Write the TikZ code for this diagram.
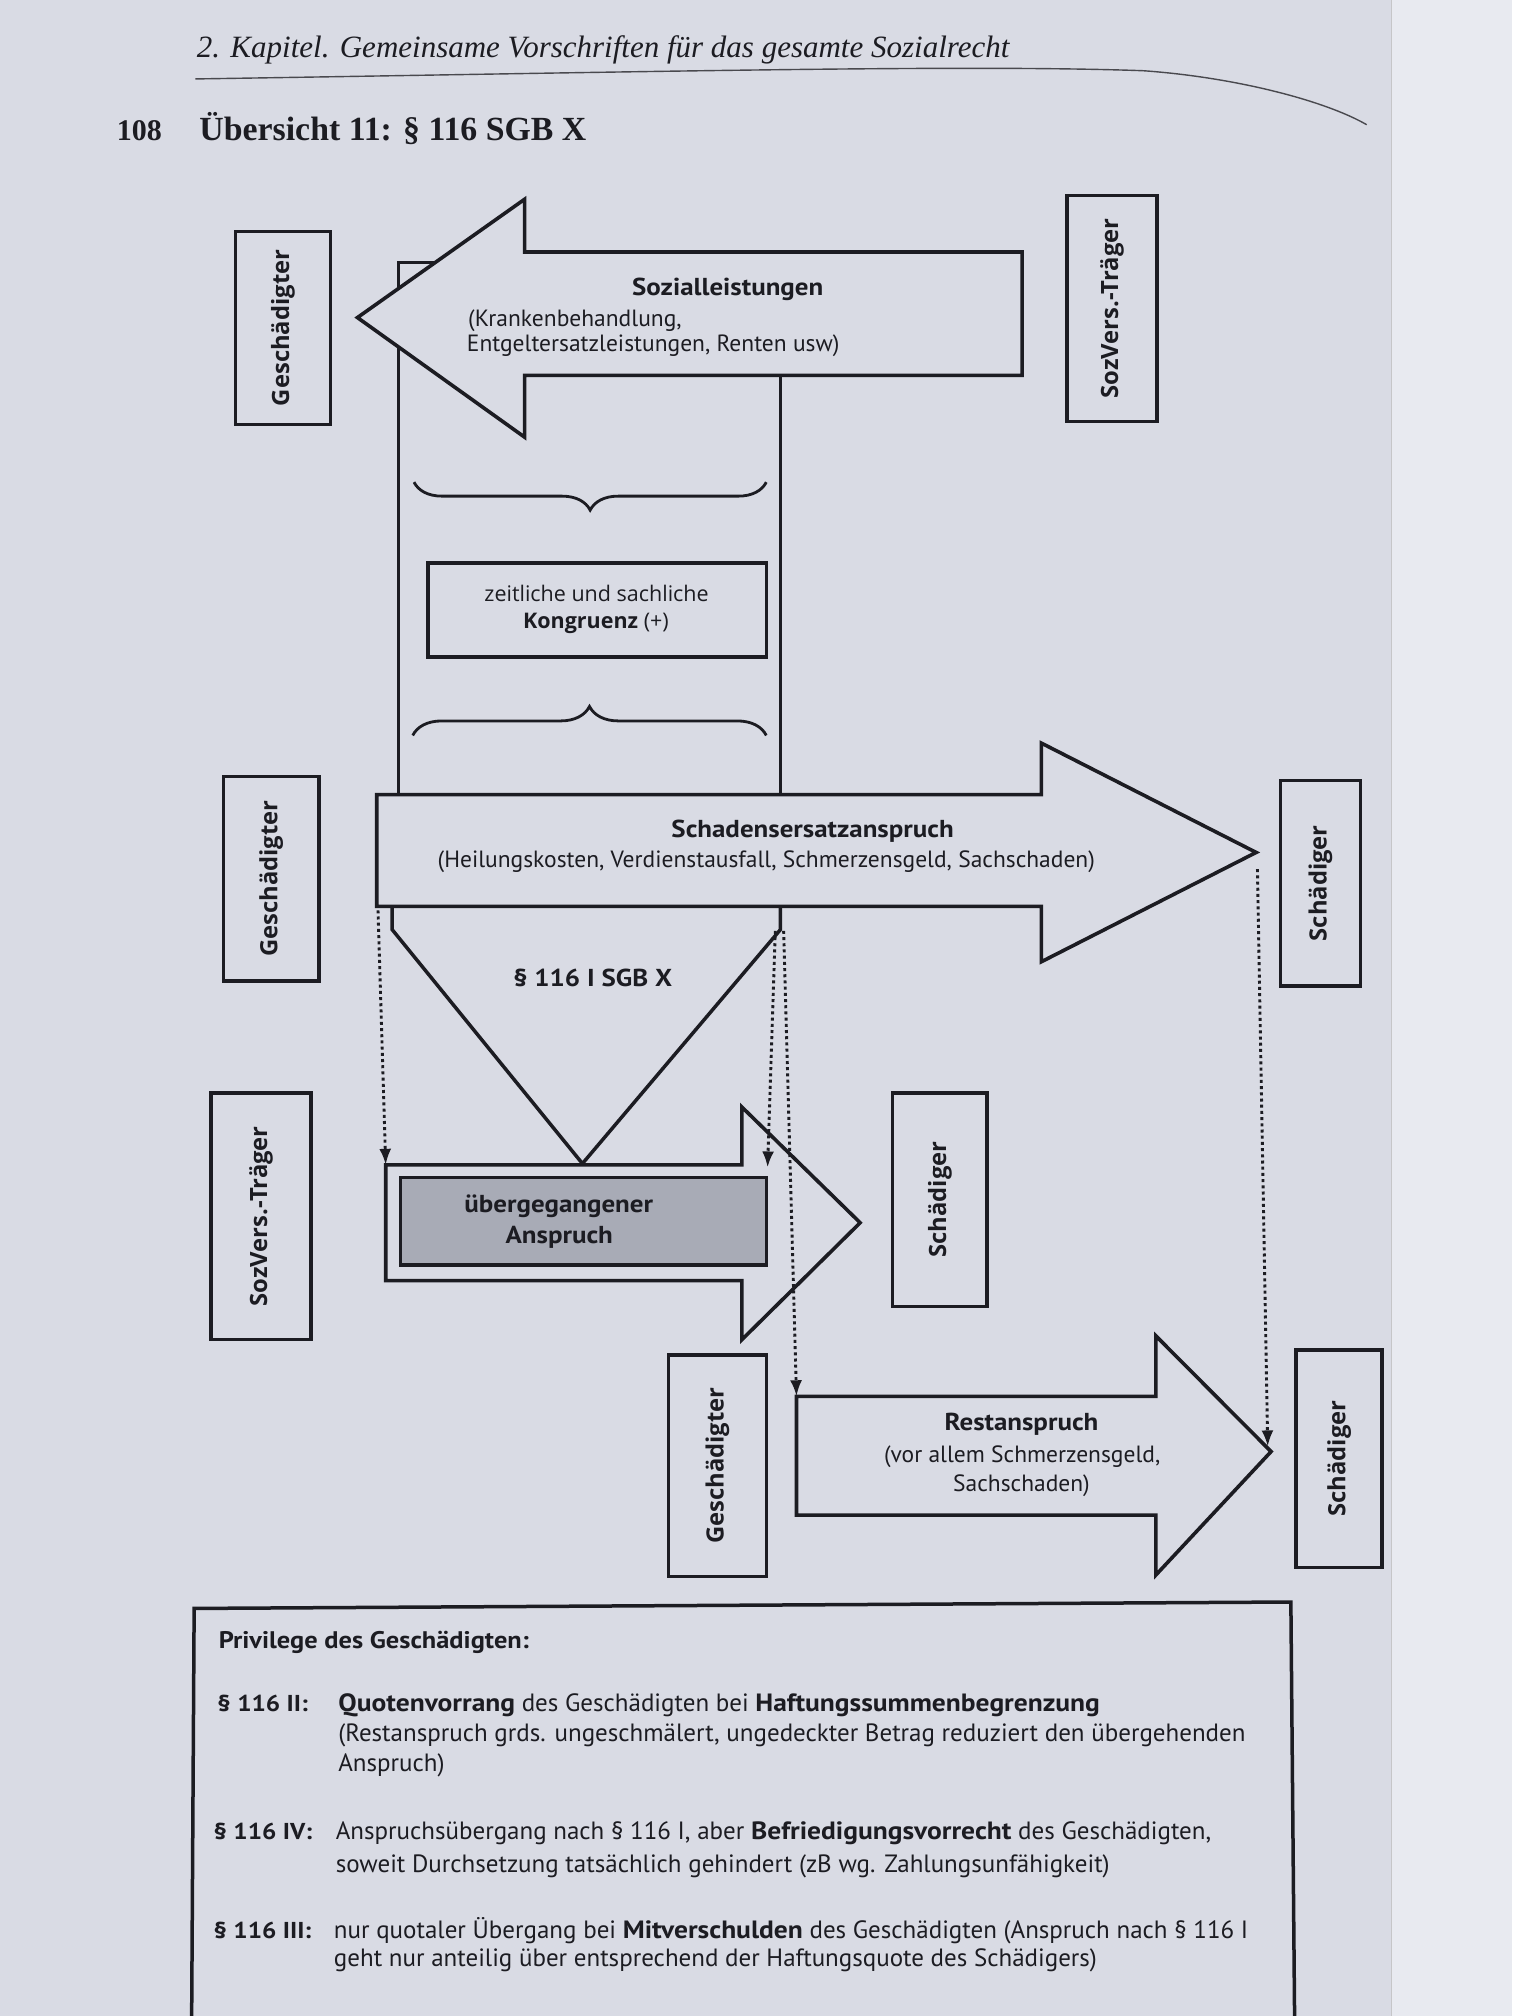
\documentclass[tikz,border=0pt]{standalone}
\usepackage{fontspec}
\setmainfont{Liberation Serif}
\newfontfamily\cnd{PT Sans}[BoldFeatures={FakeStretch=1.1}]
\newfontfamily\wide{Open Sans}
\usetikzlibrary{decorations.pathreplacing,arrows.meta}
\definecolor{page}{RGB}{217,219,228}
\definecolor{pageedge}{RGB}{232,234,240}
\definecolor{ink}{RGB}{28,28,34}
\definecolor{shade}{RGB}{168,171,182}
\begin{document}
\begin{tikzpicture}[x=1.2857pt,y=-1.2857pt,
  outl/.style={draw=ink,line width=3.6pt,fill=page,line join=miter},
  framel/.style={draw=ink,line width=3.5pt},
  lbl/.style={rotate=90,text=ink,inner sep=0pt,font=\wide\bfseries\fontsize{23.8}{26}\selectfont},
  ctxt/.style={text=ink,inner sep=0pt,font=\cnd\fontsize{23.5}{28}\selectfont},
  ctxtb/.style={text=ink,inner sep=0pt,font=\cnd\bfseries\fontsize{24.5}{28}\selectfont},
  btxt/.style={text=ink,inner sep=0pt,font=\cnd\fontsize{25}{28}\selectfont},
  btxtb/.style={text=ink,inner sep=0pt,font=\cnd\bfseries\fontsize{23}{28}\selectfont},
  wtxt/.style={text=ink,inner sep=0pt,font=\wide\fontsize{21.5}{24}\selectfont},
  dotl/.style={draw=ink,line width=2.9pt,dash pattern=on 3pt off 3.2pt,-{Latex[length=16pt,width=12pt]}},
  bracel/.style={draw=ink,line width=2.8pt,decorate,decoration={brace,amplitude=#1}},
  hdr/.style={text=ink,inner sep=0pt,anchor=base west}
]
\useasboundingbox (0,0) rectangle (1176,1568);
\fill[page] (0,0) rectangle (1176,1568);
\fill[pageedge] (1082,0) rectangle (1176,1568);
\draw[ink!25,line width=1pt] (1082,0) -- (1082,1568);

% header
\node[hdr,font=\itshape\fontsize{31}{32}\selectfont] (kap) at (153,44.6) {2. Kapitel. Gemeinsame Vorschriften für das gesamte Sozialrecht};
\draw[ink!80,line width=1.4pt] (152,61.4) .. controls (500,56) and (750,50) .. (889,55) .. controls (960,60) and (1030,78) .. (1063,97);
\node[hdr,font=\bfseries\fontsize{30}{32}\selectfont] (pnum) at (90.7,109) {108};
\node[hdr,font=\bfseries\fontsize{33.8}{34}\selectfont] (titel) at (155,109) {Übersicht 11: § 116 SGB X};

% frame lines behind the arrows
\draw[framel] (310,618) -- (310,204) -- (607,204) -- (607,618);
\draw[framel] (305,700) -- (305,723) -- (453,905) -- (607,723) -- (607,700);

% Sozialleistungen arrow
\draw[outl] (795,196) -- (408,196) -- (408,155) -- (278,247) -- (408,340) -- (408,292) -- (795,292) -- cycle;
\node[ctxtb,anchor=base] (sozt) at (566,229.5) {Sozialleistungen};
\node[ctxt,anchor=base west] (soz1) at (364,254) {(Krankenbehandlung,};
\node[ctxt,anchor=base west] (soz2) at (363,273.5) {Entgeltersatzleistungen, Renten usw)};

% braces and Kongruenz box
\draw[bracel=28pt] (596,375) -- (322,375);
\draw[bracel=29pt] (321,572) -- (596,572);
\draw[framel] (333,438) rectangle (596,511);
\node[wtxt,anchor=base] (k1) at (464,468) {zeitliche und sachliche};
\node[wtxt,anchor=base] (k2) at (463.5,488.6) {\textbf{Kongruenz} (+)};

% Schadensersatz arrow
\draw[outl] (293,618) -- (810,618) -- (810,578) -- (977,663) -- (810,748) -- (810,705) -- (293,705) -- cycle;
\node[ctxtb,anchor=base] (sch0) at (632,651.5) {Schadensersatzanspruch};
\node[ctxt,anchor=base] (sch1) at (596,675) {(Heilungskosten, Verdienstausfall, Schmerzensgeld, Sachschaden)};

\node[ctxtb,anchor=base] (p116) at (461,767.4) {§ 116 I SGB X};

% uebergegangener Anspruch arrow
\draw[outl] (300,906) -- (577,906) -- (577,861) -- (669,951) -- (577,1042) -- (577,996) -- (300,996) -- cycle;
\draw[framel,fill=shade] (311.5,916) rectangle (596,984);
\node[ctxtb,anchor=base] (ueb1) at (434.6,943) {übergegangener};
\node[ctxtb,anchor=base] (ueb2) at (435,967) {Anspruch};

% Restanspruch arrow
\draw[outl] (619.5,1086) -- (899,1086) -- (899,1039) -- (988.6,1129) -- (899,1225) -- (899,1178.4) -- (619.5,1178.4) -- cycle;
\node[ctxtb,anchor=base] (rest0) at (794.5,1112.8) {Restanspruch};
\node[ctxt,anchor=base] (rest1) at (795,1137.6) {(vor allem Schmerzensgeld,};
\node[ctxt,anchor=base] (rest2) at (794.5,1160) {Sachschaden)};

% party boxes
\draw[framel] (183,180) rectangle (257,330);
\node[lbl] (g1) at (220,255) {Geschädigter};
\draw[framel] (830,152) rectangle (900,328);
\node[lbl] (sv1) at (865,240) {SozVers.-Träger};
\draw[framel] (174,604) rectangle (248,763);
\node[lbl] (g2) at (211,683.5) {Geschädigter};
\draw[framel] (996,607) rectangle (1058,767);
\node[lbl] (sd1) at (1027,687) {Schädiger};
\draw[framel] (164,850) rectangle (242,1042);
\node[lbl] (sv2) at (203,946) {SozVers.-Träger};
\draw[framel] (694,850) rectangle (767.5,1016);
\node[lbl] (sd2) at (731,933) {Schädiger};
\draw[framel] (520,1054) rectangle (596,1226);
\node[lbl] (g3) at (558,1140) {Geschädigter};
\draw[framel] (1008,1050) rectangle (1075,1219);
\node[lbl] (sd3) at (1041.5,1134.5) {Schädiger};

% dotted transfer lines
\coordinate (d1s) at (294,708);
\coordinate (d1e) at (300,906);
\coordinate (d2s) at (603,724);
\coordinate (d2e) at (597,908);
\coordinate (d3s) at (609.5,724);
\coordinate (d3e) at (619.5,1086);
\coordinate (d4s) at (978,676);
\coordinate (d4e) at (986,1125);
\draw[dotl] (d1s) -- (d1e);
\draw[dotl] (d2s) -- (d2e);
\draw[dotl] (d3s) -- (d3e);
\draw[dotl] (d4s) -- (d4e);

% Privilege box
\draw[framel] (149,1580) -- (151,1251) -- (1004,1246) -- (1007,1580);
\node[btxtb,font=\cnd\bfseries\fontsize{24}{28}\selectfont,anchor=base west] (priv) at (170,1282) {Privilege des Geschädigten:};
\node[btxtb,anchor=base west] (p2k) at (169,1331) {§ 116 II:};
\node[btxt,anchor=base west] (p2a) at (263,1331) {\textbf{Quotenvorrang} des Geschädigten bei \textbf{Haftungssummenbegrenzung}};
\node[btxt,anchor=base west] (p2b) at (263,1354.6) {(Restanspruch grds. ungeschmälert, ungedeckter Betrag reduziert den übergehenden};
\node[btxt,anchor=base west] (p2c) at (263,1378) {Anspruch)};
\node[btxtb,anchor=base west] (p4k) at (166,1430.6) {§ 116 IV:};
\node[btxt,anchor=base west] (p4a) at (261,1430.6) {Anspruchsübergang nach § 116 I, aber \textbf{Befriedigungsvorrecht} des Geschädigten,};
\node[btxt,anchor=base west] (p4b) at (261,1456.5) {soweit Durchsetzung tatsächlich gehindert (zB wg. Zahlungsunfähigkeit)};
\node[btxtb,anchor=base west] (p3k) at (166,1507.6) {§ 116 III:};
\node[btxt,anchor=base west] (p3a) at (259.6,1507.6) {nur quotaler Übergang bei \textbf{Mitverschulden} des Geschädigten (Anspruch nach § 116 I};
\node[btxt,anchor=base west] (p3b) at (259.6,1529.6) {geht nur anteilig über entsprechend der Haftungsquote des Schädigers)};
\end{tikzpicture}
\end{document}
